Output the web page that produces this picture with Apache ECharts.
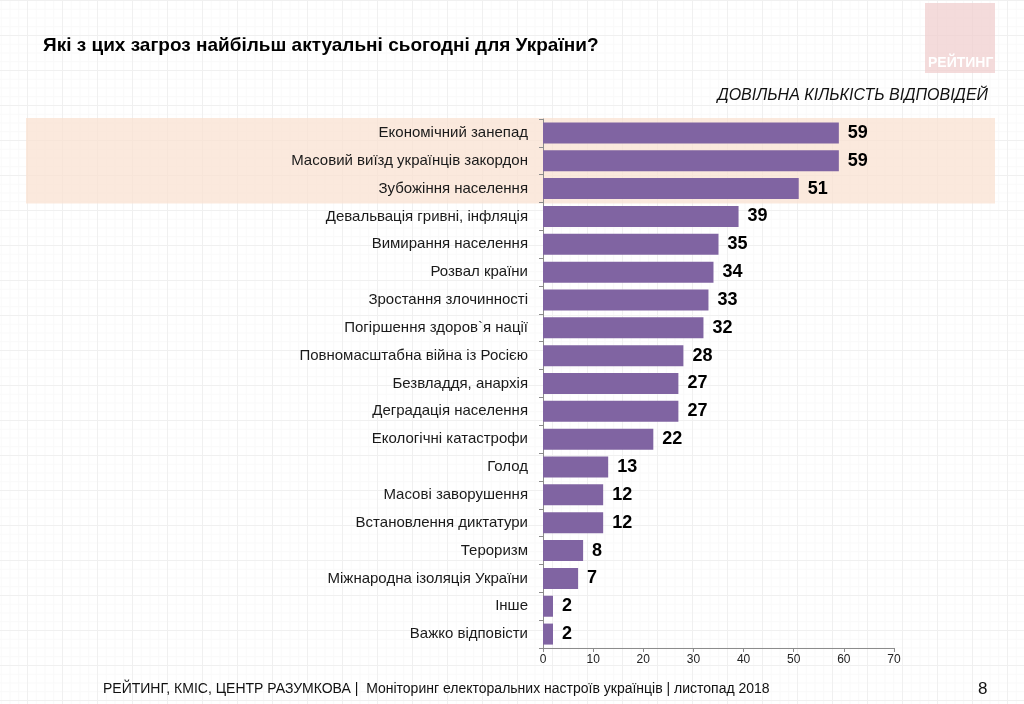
<!DOCTYPE html>
<html>
<head>
<meta charset="utf-8">
<script src="https://cdn.jsdelivr.net/npm/echarts@6/dist/echarts.min.js"></script>
<style>
html, body { margin:0; padding:0; width:1024px; height:704px; overflow:hidden;
  background-color:#ffffff;
  background-image:
    linear-gradient(#f0f0f0 1px, transparent 1px),
    linear-gradient(90deg, #f0f0f0 1px, transparent 1px),
    linear-gradient(#f9f9f9 1px, transparent 1px),
    linear-gradient(90deg, #f9f9f9 1px, transparent 1px);
  background-size:35px 35px, 35px 35px, 8.75px 8.75px, 8.75px 8.75px;
  background-position:27px 0, 27px 0, 27px 0, 27px 0;
}
#chart { width:1024px; height:704px; }
</style>
</head>
<body>
<div id="chart"></div>
<script>
const categories = [
  'Економічний занепад',
  'Масовий виїзд українців закордон',
  'Зубожіння населення',
  'Девальвація гривні, інфляція',
  'Вимирання населення',
  'Розвал країни',
  'Зростання злочинності',
  'Погіршення здоров`я нації',
  'Повномасштабна війна із Росією',
  'Безвладдя, анархія',
  'Деградація населення',
  'Екологічні катастрофи',
  'Голод',
  'Масові заворушення',
  'Встановлення диктатури',
  'Тероризм',
  'Міжнародна ізоляція України',
  'Інше',
  'Важко відповісти'
];
const values = [59, 59, 51, 39, 35, 34, 33, 32, 28, 27, 27, 22, 13, 12, 12, 8, 7, 2, 2];
const highlighted = ['Економічний занепад', 'Масовий виїзд українців закордон', 'Зубожіння населення'];
const xTicks = [0, 10, 20, 30, 40, 50, 60, 70];

const titleText = 'Які з цих загроз найбільш актуальні сьогодні для України?';
const subtitleText = 'ДОВІЛЬНА КІЛЬКІСТЬ ВІДПОВІДЕЙ';
const footerText = 'РЕЙТИНГ, КМІС, ЦЕНТР РАЗУМКОВА |  Моніторинг електоральних настроїв українців | листопад 2018';
const pageNumber = '8';
const logoText = 'РЕЙТИНГ';

const sans = '"Liberation Sans", Arial, sans-serif';

const chart = echarts.init(document.getElementById('chart'));
const option = {
  animation: false,
  backgroundColor: 'transparent',
  grid: { left: 543, right: 130, top: 119, bottom: 56, containLabel: false },
  xAxis: {
    type: 'value', min: xTicks[0], max: xTicks[xTicks.length - 1], interval: 10,
    axisLine: { show: true, lineStyle: { color: '#8c8c8c', width: 1 } },
    axisTick: { show: true, length: 4, lineStyle: { color: '#8c8c8c' } },
    axisLabel: { color: '#222', fontFamily: sans, fontSize: 12, margin: 6 },
    splitLine: { show: false }
  },
  yAxis: {
    type: 'category', data: categories, inverse: true,
    axisLine: { show: true, lineStyle: { color: '#8c8c8c', width: 1 } },
    axisTick: { show: true, length: 4, lineStyle: { color: '#8c8c8c' } },
    axisLabel: { color: '#1a1a1a', fontFamily: sans, fontSize: 15, margin: 15 }
  },
  series: [{
    type: 'bar',
    data: values,
    barWidth: 21,
    itemStyle: { color: '#8064a2' },
    label: {
      show: true, position: 'right', distance: 9,
      color: '#000', fontFamily: sans, fontWeight: 'bold', fontSize: 18
    },
    z: 3
  }],
  graphic: []
};
chart.setOption(option);

// highlight band computed from the category scale
const idxFirst = categories.indexOf(highlighted[0]);
const idxLast = categories.indexOf(highlighted[highlighted.length - 1]);
const y0 = chart.convertToPixel({ yAxisIndex: 0 }, categories[idxFirst]);
const y1 = chart.convertToPixel({ yAxisIndex: 0 }, categories[idxLast]);
const step = chart.convertToPixel({ yAxisIndex: 0 }, categories[1]) - chart.convertToPixel({ yAxisIndex: 0 }, categories[0]);
const bandTop = y0 - step / 2 - 1;
const bandBottom = y1 + step / 2 + 1;

chart.setOption({
  graphic: [
    { type: 'rect', z: -10, silent: true,
      shape: { x: 26, y: bandTop, width: 969, height: bandBottom - bandTop },
      style: { fill: 'rgba(250,226,210,0.75)' } },
    { type: 'rect', z: -10, silent: true,
      shape: { x: 925, y: 3, width: 70, height: 70 },
      style: { fill: 'rgba(240,204,204,0.7)' } },
    { type: 'text', silent: true, left: 928, top: 56,
      style: { text: logoText, fill: '#ffffff', font: 'bold 14px ' + sans } },
    { type: 'text', silent: true, left: 43, top: 36,
      style: { text: titleText, fill: '#000', font: 'bold 19px ' + sans } },
    { type: 'text', silent: true, right: 36, top: 88,
      style: { text: subtitleText, fill: '#111', font: 'italic 16px ' + sans } },
    { type: 'text', silent: true, left: 103, top: 682,
      style: { text: footerText, fill: '#111', font: '14px ' + sans } },
    { type: 'text', silent: true, left: 978, top: 681,
      style: { text: pageNumber, fill: '#111', font: '17px ' + sans } }
  ]
});
</script>
</body>
</html>
